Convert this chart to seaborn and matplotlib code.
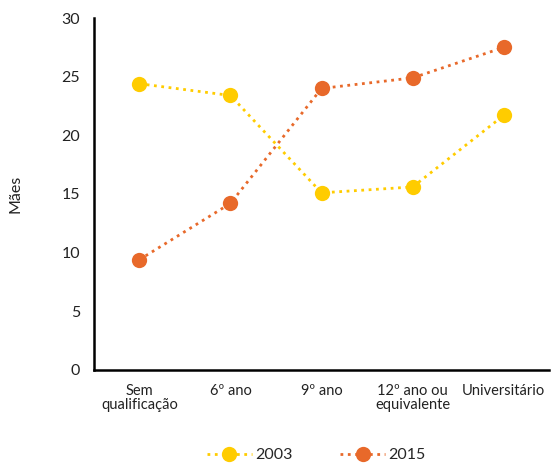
import matplotlib
matplotlib.use("Agg")
import matplotlib.pyplot as plt
import seaborn as sns
import pandas as pd
import numpy as np

categories = ["Sem\nqualificação", "6º ano", "9º ano", "12º ano ou\nequivalente", "Universitário"]
values_2003 = [24.4, 23.4, 15.1, 15.6, 21.7]
values_2015 = [9.4, 14.2, 24.0, 24.9, 27.5]
series = ["2003", "2015"]
colors = {"2003": "#FFCC00", "2015": "#E8692A"}

sns.set_theme(style="white")
plt.rcParams['font.family'] = ['Lato', 'DejaVu Sans']

df = pd.DataFrame({
    "pos": list(range(len(categories))) * 2,
    "value": values_2003 + values_2015,
    "ano": ["2003"] * len(categories) + ["2015"] * len(categories),
})

fig = plt.figure(figsize=(5.52, 4.63), dpi=100)
ax = fig.add_axes([0.170, 0.201, 0.825, 0.760])

sns.lineplot(data=df, x="pos", y="value", hue="ano", palette=colors,
             marker="o", markersize=11, markeredgewidth=0, linestyle=":",
             linewidth=2, ax=ax, legend=False)

ax.set_xlim(-0.5, len(categories) - 0.5)
ax.set_ylim(0, 30)
ax.set_yticks(range(0, 31, 5))
ax.set_yticklabels([str(v) for v in range(0, 31, 5)], fontsize=11.5)
ax.set_xticks(np.arange(-0.5, len(categories), 1.0))
ax.set_xticklabels([])
for i, c in enumerate(categories):
    ax.text(i, -1.2, c, ha="center", va="top", fontsize=10.5, color="#222222",
            linespacing=1.0)
ax.tick_params(axis="x", direction="out", length=4, width=0.8, color="#888888")
ax.tick_params(axis="y", direction="out", length=4, width=0.8, color="#888888",
               labelcolor="#222222", pad=6)

for s in ["top", "right"]:
    ax.spines[s].set_visible(False)
ax.spines["left"].set_color("black")
ax.spines["left"].set_linewidth(1.8)
ax.spines["bottom"].set_color("black")
ax.spines["bottom"].set_linewidth(1.8)

ax.set_xlabel("")
ax.set_ylabel("Mães", fontsize=11.5, color="#222222", labelpad=28)

from matplotlib.lines import Line2D
handles = [Line2D([0], [0], color=colors[s], linestyle=":", linewidth=2,
                  marker="o", markersize=11, markeredgewidth=0) for s in series]
fig.legend(handles, series, loc="center", bbox_to_anchor=(0.573, 0.017),
           ncol=2, frameon=False, fontsize=11.5, handlelength=2.8,
           columnspacing=3.0, handletextpad=0.2)

fig.savefig("out.png", dpi=100)
